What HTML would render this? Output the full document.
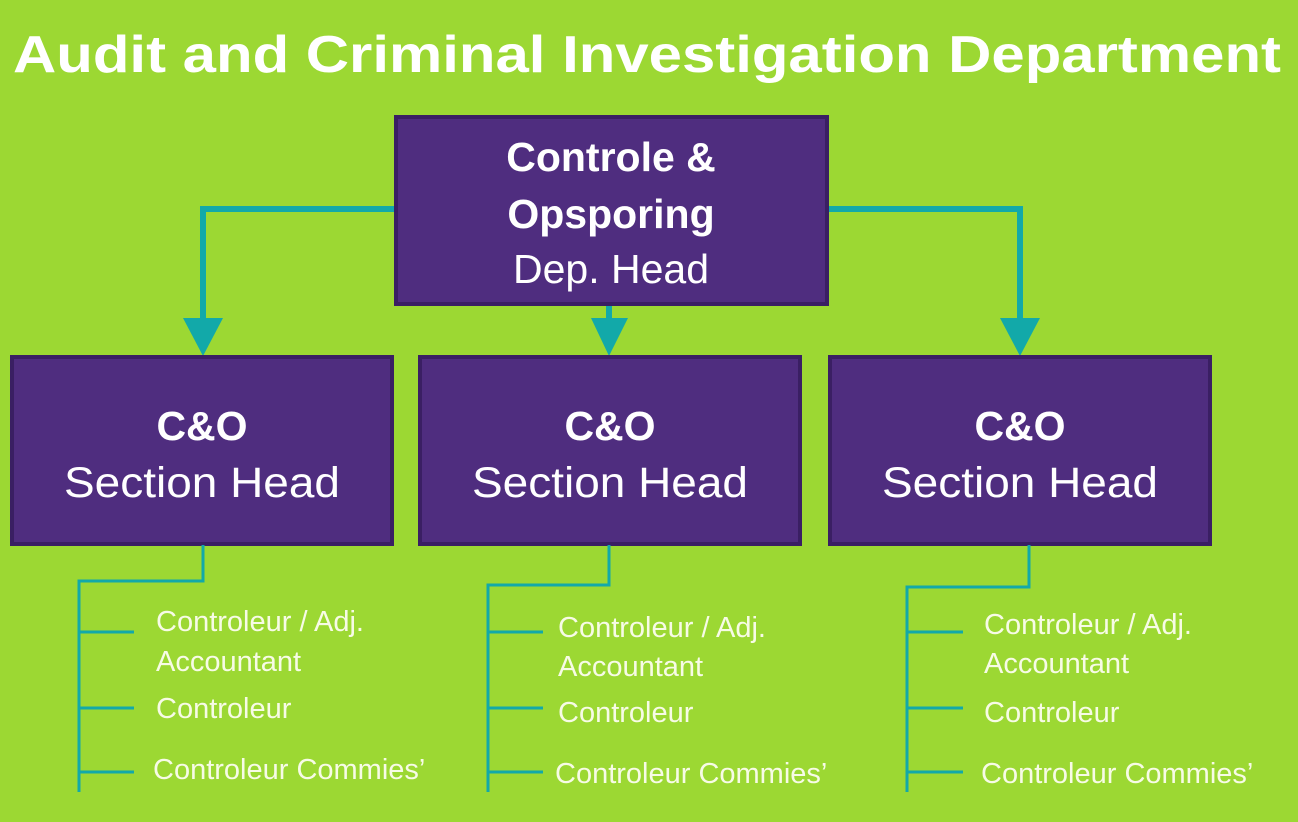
<!DOCTYPE html>
<html><head><meta charset="utf-8"><style>
html,body{margin:0;padding:0;background:#9cd833;}
svg{display:block}
text{font-family:"Liberation Sans",Arial,sans-serif;fill:#fff}
.s{fill:#f7fbe6;font-size:29px}
</style></head><body>
<svg width="1298" height="822" viewBox="0 0 1298 822">
<rect width="1298" height="822" fill="#9cd833"/>
<text x="647" y="72" text-anchor="middle" font-size="52" font-weight="bold" textLength="1268" lengthAdjust="spacingAndGlyphs">Audit and Criminal Investigation Department</text>

<g fill="none" stroke="#12a9a9" stroke-width="6">
<polyline points="396,209 203,209 203,320"/>
<polyline points="609,304 609,320"/>
<polyline points="827,209 1020,209 1020,320"/>
</g>
<g fill="#12a9a9">
<polygon points="183,318 223,318 203,356"/>
<polygon points="591,318 628,318 609,356"/>
<polygon points="1000,318 1040,318 1020,356"/>
</g>

<g fill="#4f2d7f" stroke="#3a1f63" stroke-width="4">
<rect x="396" y="117" width="431" height="187"/>
<rect x="12" y="357" width="380" height="187"/>
<rect x="420" y="357" width="380" height="187"/>
<rect x="830" y="357" width="380" height="187"/>
</g>

<text x="611" y="171" text-anchor="middle" font-size="41" font-weight="bold">Controle &amp;</text>
<text x="611" y="228" text-anchor="middle" font-size="41" font-weight="bold">Opsporing</text>
<text x="611" y="283" text-anchor="middle" font-size="41">Dep. Head</text>

<text x="202" y="440" text-anchor="middle" font-size="41" font-weight="bold">C&amp;O</text>
<text x="202" y="497" text-anchor="middle" font-size="43" textLength="276" lengthAdjust="spacingAndGlyphs">Section Head</text>
<text x="610" y="440" text-anchor="middle" font-size="41" font-weight="bold">C&amp;O</text>
<text x="610" y="497" text-anchor="middle" font-size="43" textLength="276" lengthAdjust="spacingAndGlyphs">Section Head</text>
<text x="1020" y="440" text-anchor="middle" font-size="41" font-weight="bold">C&amp;O</text>
<text x="1020" y="497" text-anchor="middle" font-size="43" textLength="276" lengthAdjust="spacingAndGlyphs">Section Head</text>

<g fill="none" stroke="#12a9a9" stroke-width="3">
<polyline points="203,545 203,581 79,581 79,792"/>
<line x1="79" y1="632" x2="134" y2="632"/><line x1="79" y1="708" x2="134" y2="708"/><line x1="79" y1="772" x2="134" y2="772"/>
<polyline points="609,545 609,585 488,585 488,792"/>
<line x1="488" y1="632" x2="543" y2="632"/><line x1="488" y1="708" x2="543" y2="708"/><line x1="488" y1="772" x2="543" y2="772"/>
<polyline points="1029,545 1029,587 907,587 907,792"/>
<line x1="907" y1="632" x2="963" y2="632"/><line x1="907" y1="708" x2="963" y2="708"/><line x1="907" y1="772" x2="963" y2="772"/>
</g>

<text class="s" x="156" y="631">Controleur / Adj.</text>
<text class="s" x="156" y="671">Accountant</text>
<text class="s" x="156" y="718">Controleur</text>
<text class="s" x="153" y="779">Controleur Commies’</text>

<text class="s" x="558" y="637">Controleur / Adj.</text>
<text class="s" x="558" y="676">Accountant</text>
<text class="s" x="558" y="722">Controleur</text>
<text class="s" x="555" y="783">Controleur Commies’</text>

<text class="s" x="984" y="634">Controleur / Adj.</text>
<text class="s" x="984" y="673">Accountant</text>
<text class="s" x="984" y="722">Controleur</text>
<text class="s" x="981" y="783">Controleur Commies’</text>
</svg>
</body></html>
